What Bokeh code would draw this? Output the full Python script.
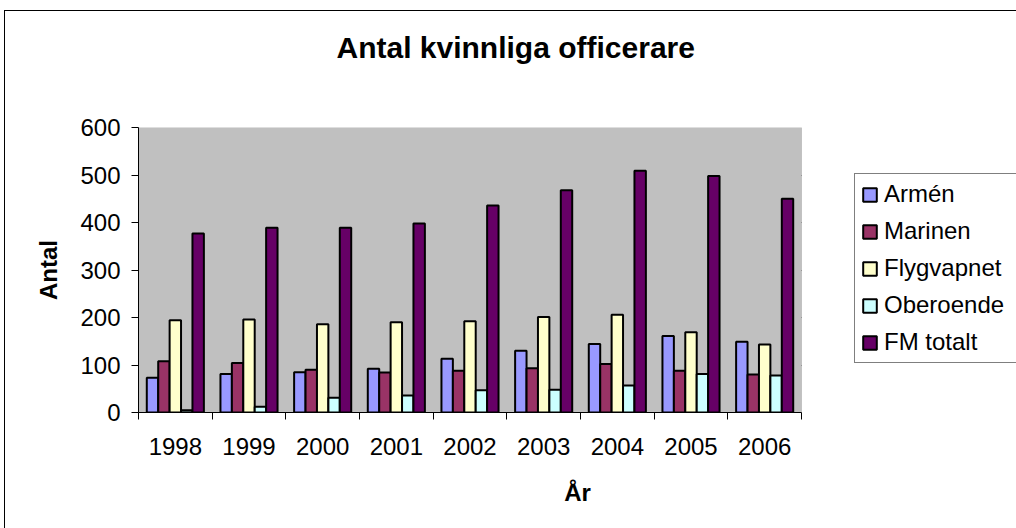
from bokeh.plotting import figure
from bokeh.models import (ColumnDataSource, Legend, LegendItem, FixedTicker, Title,
                          SingleIntervalTicker, BoxAnnotation)
from bokeh.embed import file_html
from bokeh.resources import INLINE
import numpy as np

years = ["1998", "1999", "2000", "2001", "2002", "2003", "2004", "2005", "2006"]
armen = [73, 81, 85, 92, 113, 130, 144, 161, 149]
marinen = [108, 104, 90, 84, 88, 93, 102, 88, 80]
flygvapnet = [194, 196, 186, 190, 192, 201, 206, 169, 143]
oberoende = [5, 12, 31, 36, 47, 48, 57, 81, 78]
fm_totalt = [377, 389, 389, 398, 436, 468, 509, 498, 450]

series_names = ["Armén", "Marinen", "Flygvapnet", "Oberoende", "FM totalt"]
series_vals = [armen, marinen, flygvapnet, oberoende, fm_totalt]
colors = ["#9999FF", "#993366", "#FFFFCC", "#CCFFFF", "#660066"]

FONT = "Liberation Sans"
bar_w = 0.155
n = len(years)
centers = np.arange(n) + 0.5

# layout (pixels)
W, H = 1016, 528
LEFT, TOP = 138, 127
PLOT_W, PLOT_H = 663, 285          # grey plot area
BOTTOM = H - TOP - PLOT_H
FRAME_W = W - LEFT                 # frame extends to the right edge (room for legend)
x_end = n * FRAME_W / PLOT_W

p = figure(width=W, height=H, output_backend="svg", toolbar_location=None,
           x_range=(0, x_end), y_range=(0, 600),
           min_border_left=LEFT, min_border_right=0, min_border_top=TOP,
           min_border_bottom=BOTTOM, title=None)
p.styles = {"box-shadow": "inset 4px 10px 0 0 #ffffff, inset 5px 11px 0 0 #000000",
            "background": "#ffffff"}

p.background_fill_color = "white"
p.border_fill_color = None
p.outline_line_color = None

plot_area = BoxAnnotation(left=0, right=n, bottom=0, top=600,
                          fill_color="#C0C0C0", fill_alpha=1,
                          line_color="#808080", line_width=1, level="underlay")
p.add_layout(plot_area)

items = []
for i, (name, vals, col) in enumerate(zip(series_names, series_vals, colors)):
    src = ColumnDataSource(dict(x=centers + (i - 2) * bar_w, top=vals))
    r = p.vbar(x="x", top="top", width=bar_w, source=src, fill_color=col,
               line_color="black", line_width=2)
    items.append(LegendItem(label=name, renderers=[r]))

# grid
p.xgrid.visible = False
p.ygrid.ticker = SingleIntervalTicker(interval=100)
p.ygrid.grid_line_color = "black"
p.ygrid.grid_line_width = 1
p.ygrid.cross_bounds = (0, n)
p.ygrid.level = "underlay"

# y axis
p.yaxis.ticker = SingleIntervalTicker(interval=100, num_minor_ticks=0)
p.yaxis.axis_line_color = "black"
p.yaxis.major_tick_line_color = "black"
p.yaxis.major_tick_out = 7
p.yaxis.major_tick_in = 0
p.yaxis.minor_tick_line_color = None
p.yaxis.major_label_text_font = FONT
p.yaxis.major_label_text_font_size = "24px"
p.yaxis.major_label_text_color = "black"
p.yaxis.major_label_standoff = 11
p.yaxis.axis_label = "Antal"
p.yaxis.axis_label_text_font = FONT
p.yaxis.axis_label_text_font_size = "24px"
p.yaxis.axis_label_text_font_style = "bold"
p.yaxis.axis_label_text_color = "black"
p.yaxis.axis_label_standoff = 15

# x axis: labels at category centres, ticks at boundaries
p.xaxis.bounds = (0, n)
p.xaxis.ticker = FixedTicker(ticks=list(centers),
                             minor_ticks=list(range(n + 1)))
p.xaxis.major_label_overrides = {float(c): y for c, y in zip(centers, years)}
p.xaxis.major_tick_line_color = None
p.xaxis.major_tick_out = 0
p.xaxis.major_tick_in = 0
p.xaxis.minor_tick_line_color = "black"
p.xaxis.minor_tick_out = 7
p.xaxis.minor_tick_in = 0
p.xaxis.axis_line_color = "black"
p.xaxis.major_label_text_font = FONT
p.xaxis.major_label_text_font_size = "24px"
p.xaxis.major_label_text_color = "black"
p.xaxis.major_label_standoff = 18
p.xaxis.axis_label = "År"
p.xaxis.axis_label_text_font = FONT
p.xaxis.axis_label_text_font_size = "24px"
p.xaxis.axis_label_text_font_style = "bold"
p.xaxis.axis_label_text_color = "black"
p.xaxis.axis_label_standoff = 21

# title (a blank spacer title sits between the real title and the plot area)
spacer = Title(text=" ", text_font=FONT, text_font_size="2px", standoff=55)
p.add_layout(spacer, "above")
title = Title(text="Antal kvinnliga officerare", text_font=FONT,
              text_font_size="30px", text_font_style="bold", text_color="black",
              align="left", offset=198, standoff=10)
p.add_layout(title, "above")

legend = Legend(items=items, location=(716, 49), orientation="vertical",
                label_text_font=FONT, label_text_font_size="24px",
                label_text_color="black", label_height=24, label_standoff=6,
                label_width=140,
                glyph_width=17, glyph_height=17, spacing=9, padding=6, margin=0,
                border_line_color="black", border_line_width=1,
                background_fill_color="white", background_fill_alpha=1)
p.add_layout(legend, "center")

open("out.html", "w").write(file_html(p, INLINE))
